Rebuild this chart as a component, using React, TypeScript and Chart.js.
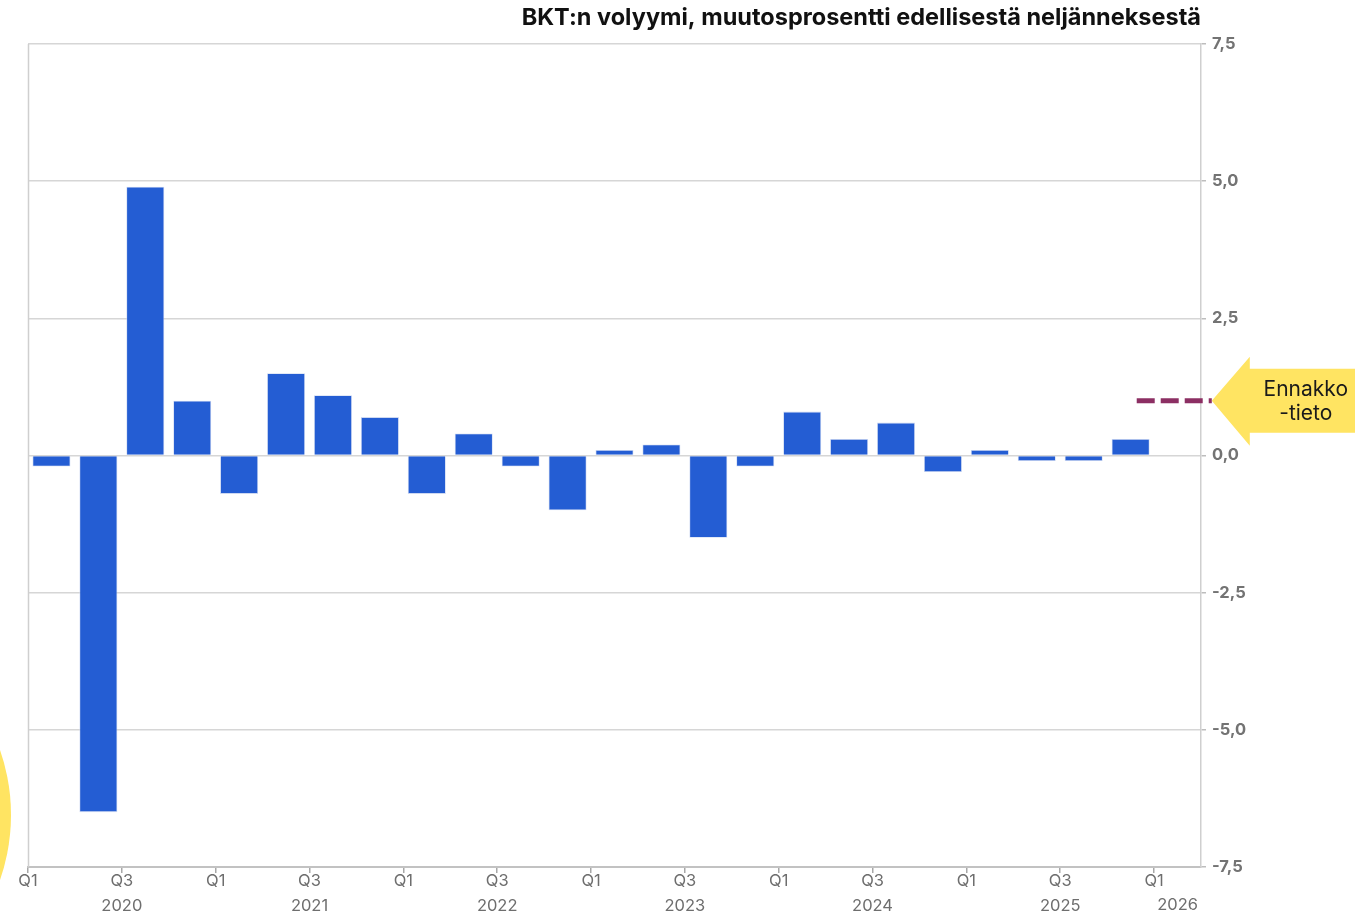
import React, { useEffect, useRef } from 'react';
import { Chart, registerables } from 'chart.js';

Chart.register(...registerables);

const quarters = [
  '2020Q1', '2020Q2', '2020Q3', '2020Q4',
  '2021Q1', '2021Q2', '2021Q3', '2021Q4',
  '2022Q1', '2022Q2', '2022Q3', '2022Q4',
  '2023Q1', '2023Q2', '2023Q3', '2023Q4',
  '2024Q1', '2024Q2', '2024Q3', '2024Q4',
  '2025Q1', '2025Q2', '2025Q3', '2025Q4',
  '2026Q1',
];

const gdpChange: (number | null)[] = [
  -0.2, -6.5, 4.9, 1.0,
  -0.7, 1.5, 1.1, 0.7,
  -0.7, 0.4, -0.2, -1.0,
  0.1, 0.2, -1.5, -0.2,
  0.8, 0.3, 0.6, -0.3,
  0.1, -0.1, -0.1, 0.3,
  null,
];

const flashEstimate = 1.0;
const flashIndex = 24;

const years = ['2020', '2021', '2022', '2023', '2024', '2025', '2026'];
const yTicks = [-7.5, -5, -2.5, 0, 2.5, 5, 7.5];

const titleText = 'BKT:n volyymi, muutosprosentti edellisestä neljänneksestä';
const annotationLines = ['Ennakko', '-tieto'];

const FONT = 'Inter, "Noto Sans", sans-serif';

const fmt = (v: number) => (v < 0 ? '-' : '') + Math.abs(v).toFixed(1).replace('.', ',');

const decorPlugin = {
  id: 'decor',
  beforeDraw(chart: any) {
    const ctx = chart.ctx;
    ctx.save();
    ctx.fillStyle = '#FFE462';
    ctx.beginPath();
    ctx.arc(-186, 815, 197, 0, Math.PI * 2);
    ctx.fill();
    ctx.restore();
  },
  beforeDatasetsDraw(chart: any) {
    const { ctx, chartArea } = chart;
    ctx.save();
    ctx.strokeStyle = '#cfcfcf';
    ctx.lineWidth = 1.5;
    ctx.beginPath();
    ctx.moveTo(chartArea.left + 0.5, chartArea.top);
    ctx.lineTo(chartArea.left + 0.5, chartArea.bottom);
    ctx.stroke();
    ctx.restore();
  },
  afterDraw(chart: any) {
    const { ctx, chartArea } = chart;
    const xs = chart.scales.x;
    const ys = chart.scales.y;
    const cw = xs.getPixelForValue(1) - xs.getPixelForValue(0);
    const cx = xs.getPixelForValue(flashIndex);
    const yv = ys.getPixelForValue(flashEstimate);
    const x0 = cx - 0.87 * cw;
    const x1 = cx + 0.73 * cw;

    ctx.save();
    ctx.fillStyle = '#111';
    ctx.font = `bold 23.5px ${FONT}`;
    ctx.textAlign = 'right';
    ctx.textBaseline = 'middle';
    ctx.fillText(titleText, chartArea.right, 18);

    ctx.fillStyle = '#6e6e6e';
    ctx.font = `16.5px ${FONT}`;
    ctx.textAlign = 'center';
    ctx.fillText(years[years.length - 1], cx, 905);

    ctx.strokeStyle = '#8C2F63';
    ctx.lineWidth = 5;
    ctx.setLineDash([18, 6]);
    ctx.beginPath();
    ctx.moveTo(x0, yv);
    ctx.lineTo(x1, yv);
    ctx.stroke();
    ctx.setLineDash([]);

    const W = chart.width;
    ctx.fillStyle = '#FFE462';
    ctx.beginPath();
    ctx.moveTo(x1, yv);
    ctx.lineTo(x1 + 38, yv - 44);
    ctx.lineTo(x1 + 38, yv - 32);
    ctx.lineTo(W, yv - 32);
    ctx.lineTo(W, yv + 32);
    ctx.lineTo(x1 + 38, yv + 32);
    ctx.lineTo(x1 + 38, yv + 45);
    ctx.closePath();
    ctx.fill();

    ctx.fillStyle = '#1a1a1a';
    ctx.font = `21px ${FONT}`;
    ctx.textAlign = 'center';
    ctx.textBaseline = 'middle';
    ctx.fillText(annotationLines[0], x1 + 94, yv - 11);
    ctx.fillText(annotationLines[1], x1 + 94, yv + 13);
    ctx.restore();
  },
};

export default function App() {
  const ref = useRef<HTMLCanvasElement | null>(null);

  useEffect(() => {
    if (!ref.current) return;
    const chart = new Chart(ref.current, {
      type: 'bar',
      data: {
        labels: quarters,
        datasets: [
          {
            data: gdpChange,
            backgroundColor: '#245DD3',
            borderColor: 'rgba(200,212,240,0.9)',
            borderWidth: 0.8,
            barPercentage: 0.81,
            categoryPercentage: 1.0,
          },
        ],
      },
      options: {
        responsive: false,
        animation: false,
        devicePixelRatio: 1,
        layout: { padding: { left: 28, top: 44, right: 0, bottom: 0 } },
        plugins: {
          legend: { display: false },
          tooltip: { enabled: false },
          title: { display: false },
        },
        scales: {
          x: {
            type: 'category',
            display: false,
            offset: true,
            grid: { display: false },
          },
          xq: {
            type: 'linear',
            position: 'bottom',
            offset: false,
            min: 0,
            max: quarters.length,
            afterBuildTicks: (s: any) => {
              s.ticks = s.ticks.filter((t: any) => t.value % 2 === 0 && t.value < quarters.length);
            },
            afterFit: (s: any) => {
              s.height = 46;
            },
            ticks: {
              stepSize: 2,
              autoSkip: false,
              maxRotation: 0,
              color: '#6e6e6e',
              padding: -5,
              font: { family: FONT, size: 16.5, lineHeight: 1.55 },
              callback: (v: any) => {
                const n = Number(v);
                return n % 4 === 2 ? ['Q3', years[Math.floor(n / 4)]] : ['Q1', ''];
              },
            },
            grid: {
              offset: false,
              drawOnChartArea: false,
              tickLength: 6,
              tickColor: '#a8a8a8',
              lineWidth: 1.5,
            },
            border: { color: '#c2c2c2', width: 2 },
          },
          y: {
            position: 'right',
            min: -7.5,
            max: 7.5,
            afterBuildTicks: (s: any) => {
              s.ticks = yTicks.map((v) => ({ value: v }));
            },
            afterFit: (s: any) => {
              s.width = 154;
            },
            ticks: {
              color: '#737373',
              padding: 6,
              font: { family: FONT, size: 16.5, weight: 'bold' },
              callback: (v: any) => fmt(Number(v)),
            },
            grid: { color: '#d6d6d6', lineWidth: 1.5, tickLength: 5, tickColor: '#bdbdbd' },
            border: { color: '#cfcfcf', width: 1.5 },
          },
        },
      },
      plugins: [decorPlugin],
    } as any);
    return () => chart.destroy();
  }, []);

  return (
    <div style={{ position: 'absolute', left: 0, top: 0, width: 1355, height: 913 }}>
      <canvas ref={ref} width={1355} height={913} />
    </div>
  );
}
